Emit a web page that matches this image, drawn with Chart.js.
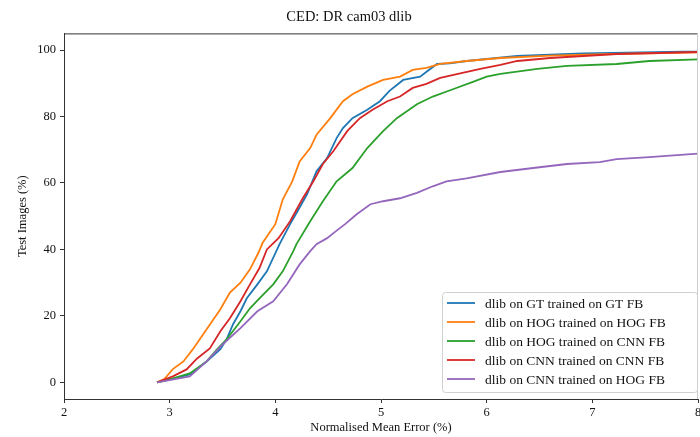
<!DOCTYPE html>
<html>
<head>
<meta charset="utf-8">
<title>CED: DR cam03 dlib</title>
<script src="https://cdn.jsdelivr.net/npm/chart.js@4.4.1/dist/chart.umd.min.js"></script>
<style>
  html, body { margin: 0; padding: 0; background: #fff; }
  canvas { display: block; }
</style>
</head>
<body>
<canvas id="cedChart" width="700" height="437"></canvas>
<script>
// tick labels
const xTicks = [2, 3, 4, 5, 6, 7, 8];
const yTicks = [0, 20, 40, 60, 80, 100];

const seriesNames = [
  "dlib on GT trained on GT FB",
  "dlib on HOG trained on HOG FB",
  "dlib on HOG trained on CNN FB",
  "dlib on CNN trained on CNN FB",
  "dlib on CNN trained on HOG FB"
];
const seriesColors = ["#1f77b4", "#ff7f0e", "#2ca02c", "#d62728", "#9467bd"];

// GT on GT
const errGtGt = [2.88, 3.0, 3.19, 3.35, 3.48, 3.54, 3.6, 3.67, 3.73, 3.83, 3.92, 4.04, 4.14, 4.21, 4.3, 4.39, 4.49, 4.58, 4.64, 4.73, 4.87, 4.99, 5.08, 5.21, 5.37, 5.44, 5.53, 5.65, 5.81, 6.0, 6.29, 6.91, 7.86, 8.0];
const pctGtGt = [0, 0.8, 2.4, 6.3, 10, 13, 17.5, 21.4, 25.3, 29.5, 33.4, 41.6, 47.6, 51.5, 56.6, 63.5, 67.5, 73.5, 76.5, 79.5, 82, 84.6, 87.7, 91, 92, 93.7, 95.8, 96, 96.7, 97.3, 98.2, 99, 99.5, 99.5];

// HOG on HOG
const errHogHog = [2.88, 2.95, 3.03, 3.13, 3.22, 3.35, 3.48, 3.57, 3.67, 3.76, 3.84, 3.88, 4.0, 4.07, 4.16, 4.23, 4.33, 4.39, 4.52, 4.64, 4.73, 4.87, 5.02, 5.18, 5.3, 5.43, 5.56, 5.81, 6.13, 6.6, 7.2, 8.0];
const pctHogHog = [0, 1, 4, 6.3, 10, 16, 22, 27, 30, 34, 39, 42, 47.6, 55, 60.5, 66.5, 70.5, 74.5, 79.5, 84.6, 86.7, 89, 91, 92, 94, 94.6, 95.8, 96.7, 97.6, 98.3, 98.8, 99.3];

// HOG on CNN
const errHogCnn = [2.88, 3.03, 3.19, 3.35, 3.45, 3.54, 3.67, 3.76, 3.85, 3.98, 4.07, 4.17, 4.2, 4.33, 4.45, 4.58, 4.73, 4.87, 5.02, 5.15, 5.34, 5.49, 5.68, 5.87, 6.0, 6.13, 6.48, 6.76, 7.23, 7.54, 8.0];
const pctHogCnn = [0, 1.2, 2.7, 6.3, 10, 13, 18.4, 22.3, 25.3, 29.5, 33.4, 39.5, 41.6, 48.5, 54.5, 60.5, 64.5, 70.5, 75.6, 79.5, 83.7, 86, 88.2, 90.4, 92, 92.8, 94.3, 95.2, 95.8, 96.7, 97.2];

// CNN on CNN
const errCnnCnn = [2.88, 3.03, 3.16, 3.26, 3.38, 3.48, 3.57, 3.67, 3.76, 3.85, 3.92, 4.03, 4.14, 4.26, 4.36, 4.45, 4.55, 4.68, 4.8, 4.92, 5.06, 5.18, 5.3, 5.43, 5.56, 5.75, 5.94, 6.13, 6.29, 6.6, 7.23, 8.0];
const pctCnnCnn = [0, 1.8, 3.9, 7.2, 10.2, 15.4, 19.3, 24.4, 29.5, 34.4, 40, 43.4, 48.5, 55.4, 60.5, 65.7, 69.6, 75.6, 79.5, 82, 84.6, 86, 88.6, 89.8, 91.6, 93, 94.3, 95.5, 96.7, 97.6, 98.8, 99.4];

// CNN on HOG
const errCnnHog = [2.88, 3.19, 3.35, 3.5, 3.67, 3.83, 3.98, 4.11, 4.23, 4.33, 4.39, 4.49, 4.55, 4.66, 4.77, 4.9, 5.02, 5.18, 5.34, 5.49, 5.62, 5.81, 6.13, 6.44, 6.76, 7.07, 7.23, 7.54, 8.0];
const pctCnnHog = [0, 1.8, 6.3, 11.4, 16.3, 21.4, 24.4, 29.5, 35.5, 39.5, 41.6, 43.4, 44.9, 47.6, 50.6, 53.6, 54.5, 55.4, 57, 59, 60.5, 61.4, 63.3, 64.5, 65.7, 66.3, 67.2, 67.8, 68.8];

const errSeries = [errGtGt, errHogHog, errHogCnn, errCnnCnn, errCnnHog];
const pctSeries = [pctGtGt, pctHogHog, pctHogCnn, pctCnnCnn, pctCnnHog];

const serif = "'Liberation Serif', 'DejaVu Serif', serif";
const axisColor = "#333";

function toPoints(xs, ys) {
  return xs.map(function(x, i) { return { x: x, y: ys[i] }; });
}

const datasets = seriesNames.map(function(name, i) {
  return {
    label: name,
    data: toPoints(errSeries[i], pctSeries[i]),
    borderColor: seriesColors[i],
    backgroundColor: seriesColors[i],
    borderWidth: 1.8,
    pointRadius: 0,
    tension: 0,
    fill: false,
    order: seriesNames.length - i   // later series drawn on top, like matplotlib
  };
});

// top/right spine + legend box in lower right corner
const framePlugin = {
  id: "frameAndLegend",
  afterDraw: function(chart) {
    const ctx = chart.ctx;
    const ca = chart.chartArea;
    ctx.save();
    ctx.strokeStyle = axisColor;
    ctx.lineWidth = 1;
    ctx.beginPath();
    ctx.moveTo(ca.left, ca.top + 0.5);
    ctx.lineTo(ca.right, ca.top + 0.5);
    ctx.stroke();
    ctx.strokeStyle = "#ccc";
    ctx.beginPath();
    ctx.moveTo(ca.right - 0.5, ca.top);
    ctx.lineTo(ca.right - 0.5, ca.bottom);
    ctx.stroke();

    // legend
    const boxW = 255, boxH = 100;
    const bx = ca.right - boxW - 1;
    const by = ca.bottom - boxH - 7;
    ctx.fillStyle = "rgba(255,255,255,0.85)";
    ctx.strokeStyle = "#d0d0d0";
    ctx.lineWidth = 1;
    ctx.beginPath();
    ctx.roundRect(bx + 0.5, by + 0.5, boxW, boxH, 3);
    ctx.fill();
    ctx.stroke();

    ctx.font = "13.5px " + serif;
    ctx.textBaseline = "middle";
    ctx.textAlign = "left";
    chart.data.datasets.forEach(function(ds, i) {
      const y = by + 11 + i * 19;
      ctx.strokeStyle = ds.borderColor;
      ctx.lineWidth = 1.8;
      ctx.beginPath();
      ctx.moveTo(bx + 5, y);
      ctx.lineTo(bx + 33, y);
      ctx.stroke();
      ctx.fillStyle = "#111";
      ctx.fillText(ds.label, bx + 43, y + 1);
    });
    ctx.restore();
  }
};

new Chart(document.getElementById("cedChart"), {
  type: "line",
  data: { datasets: datasets },
  options: {
    responsive: false,
    animation: false,
    layout: { padding: { left: 0, right: 2, top: 0, bottom: 0 } },
    plugins: {
      legend: { display: false },
      tooltip: { enabled: false },
      title: {
        display: true,
        text: "CED: DR cam03 dlib",
        color: "#111",
        font: { family: serif, size: 14.5, weight: "normal" },
        padding: { top: 8, bottom: 8 }
      }
    },
    scales: {
      x: {
        type: "linear",
        min: xTicks[0],
        max: xTicks[xTicks.length - 1],
        afterBuildTicks: function(scale) {
          scale.ticks = xTicks.map(function(v) { return { value: v }; });
        },
        afterFit: function(scale) {
          scale.height = 38;
          scale.paddingRight = 0;
          scale.paddingLeft = 0;
        },
        ticks: {
          color: "#111",
          font: { family: serif, size: 12.5 },
          padding: 2,
          maxRotation: 0,
          autoSkip: false
        },
        grid: { drawOnChartArea: false, drawTicks: true, tickLength: 4, color: axisColor },
        border: { display: true, color: axisColor, width: 1 },
        title: {
          display: true,
          text: "Normalised Mean Error (%)",
          color: "#111",
          font: { family: serif, size: 12.5 },
          padding: { top: 0, bottom: 2 }
        }
      },
      y: {
        type: "linear",
        min: -5,
        max: 105,
        afterBuildTicks: function(scale) {
          scale.ticks = yTicks.map(function(v) { return { value: v }; });
        },
        afterFit: function(scale) {
          scale.width = 64;
        },
        ticks: {
          color: "#111",
          font: { family: serif, size: 12.5 },
          padding: 4,
          autoSkip: false
        },
        grid: { drawOnChartArea: false, drawTicks: true, tickLength: 4, color: axisColor },
        border: { display: true, color: axisColor, width: 1 },
        title: {
          display: true,
          text: "Test Images (%)",
          color: "#111",
          font: { family: serif, size: 12.5 },
          padding: { top: 15, bottom: 0 }
        }
      }
    }
  },
  plugins: [framePlugin]
});
</script>
</body>
</html>
